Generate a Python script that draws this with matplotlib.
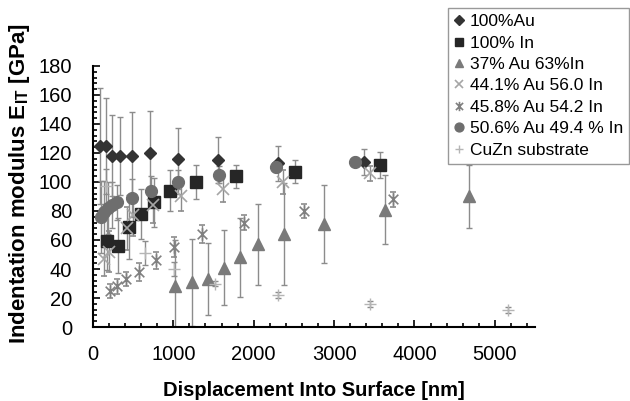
import matplotlib
matplotlib.use("Agg")
import matplotlib.pyplot as plt
from matplotlib.path import Path
from matplotlib.lines import Line2D
from matplotlib.ticker import MultipleLocator

plt.rcParams['font.family'] = ['Liberation Sans', 'DejaVu Sans']
plt.rcParams['mathtext.fontset'] = 'custom'
plt.rcParams['mathtext.bf'] = 'Liberation Sans:bold'
plt.rcParams['mathtext.rm'] = 'Liberation Sans'

# Data (displacement [nm], modulus [GPa], error)
au100_x = [85, 160, 235, 340, 485, 710, 1055, 1560, 2300, 3370]
au100_y = [125, 125, 118, 118, 118, 120, 116, 115, 113, 114]
au100_e = [40, 33, 28, 27, 30, 29, 21, 16, 12, 9]

in100_x = [178, 311, 448, 602, 755, 960, 1280, 1780, 2510, 3570]
in100_y = [59, 56, 69, 78, 86, 94, 100, 104, 107, 112]
in100_e = [20, 19, 22, 17, 17, 14, 12, 8, 8, 9]

au37_x = [1017, 1237, 1432, 1631, 1826, 2054, 2373, 2870, 3630, 4680]
au37_y = [28, 31, 33, 41, 48, 57, 64, 71, 81, 90]
au37_e = [32, 30, 25, 26, 27, 28, 35, 27, 24, 22]

au441_x = [137, 200, 420, 500, 750, 1100, 1620, 2370, 3450]
au441_y = [47, 52, 68, 77, 84, 90, 95, 100, 106]
au441_e = [12, 14, 15, 14, 12, 10, 9, 8, 5]

au458_x = [216, 299, 415, 568, 780, 1008, 1361, 1880, 2630, 3730]
au458_y = [25, 28, 33, 38, 46, 55, 64, 72, 80, 88]
au458_e = [5, 5, 5, 6, 6, 7, 6, 5, 5, 5]

au506_x = [100, 140, 185, 240, 300, 480, 720, 1060, 1570, 2280, 3260]
au506_y = [76, 79, 82, 84, 86, 89, 94, 100, 105, 110, 114]
au506_e = [25, 22, 18, 16, 12, 13, 10, 8, 6, 3, 3]

cuzn_x = [166, 650, 1008, 1515, 2303, 3450, 5170]
cuzn_y = [97, 51, 40, 30, 22, 16, 12]
cuzn_e = [12, 8, 5, 2, 2, 2, 2]

# x with a vertical bar, like the spreadsheet "star" marker
star = Path([(-1, -1), (1, 1), (-1, 1), (1, -1), (0, -1.3), (0, 1.3)],
            [Path.MOVETO, Path.LINETO, Path.MOVETO, Path.LINETO, Path.MOVETO, Path.LINETO])

series = [
    (au100_x, au100_y, au100_e, "100%Au", dict(marker="D", ms=6.5, color="#333333")),
    (in100_x, in100_y, in100_e, "100% In", dict(marker="s", ms=8.5, color="#262626")),
    (au37_x, au37_y, au37_e, "37% Au 63%In", dict(marker="^", ms=8, color="#7a7a7a")),
    (au441_x, au441_y, au441_e, "44.1% Au 56.0 In", dict(marker="x", ms=8, mew=1.2, color="#a6a6a6")),
    (au458_x, au458_y, au458_e, "45.8% Au 54.2 In", dict(marker=star, ms=9, mew=1.2, color="#808080", mfc="none")),
    (au506_x, au506_y, au506_e, "50.6% Au 49.4 % In", dict(marker="o", ms=8.5, color="#6e6e6e")),
    (cuzn_x, cuzn_y, cuzn_e, "CuZn substrate", dict(marker="+", ms=8, mew=1, color="#b5b5b5")),
]

fig = plt.figure(figsize=(6.3, 4.01), dpi=100)
ax = fig.add_axes([0.1476, 0.1845, 0.7016, 0.651])

handles = []
for x, y, e, lab, st in series:
    ax.errorbar(x, y, yerr=e, linestyle="none", ecolor="#8c8c8c", elinewidth=1,
                capsize=2.5, capthick=1, **st)
    handles.append(Line2D([], [], linestyle="none", label=lab, **st))

ax.set_xlim(0, 5500)
ax.set_ylim(0, 180)
ax.xaxis.set_major_locator(MultipleLocator(1000))
ax.xaxis.set_minor_locator(MultipleLocator(200))
ax.yaxis.set_major_locator(MultipleLocator(20))
ax.yaxis.set_minor_locator(MultipleLocator(4))
ax.spines["top"].set_visible(False)
ax.spines["right"].set_visible(False)
ax.spines["left"].set_linewidth(1.5)
ax.spines["bottom"].set_linewidth(1.5)
ax.tick_params(which="both", direction="in", width=1.2, labelsize=14.5)
ax.tick_params(which="major", length=5)
ax.tick_params(which="minor", length=3)
ax.tick_params(axis="x", which="major", pad=13)
ax.tick_params(axis="y", which="major", pad=15)

ax.set_xlabel("Displacement Into Surface [nm]", fontsize=14.5, fontweight="bold", labelpad=12)
ax.set_ylabel(r"Indentation modulus E$_\mathbf{IT}$ [GPa]", fontsize=16, fontweight="bold")
ax.yaxis.set_label_coords(-0.138, 0.55)

leg = ax.legend(handles=handles, loc="upper left", bbox_to_anchor=(448 / 630, 1 - 8 / 401),
                bbox_transform=fig.transFigure, fontsize=12.5, frameon=True,
                fancybox=False, edgecolor="#808080", handlelength=0.6,
                handletextpad=0.3, labelspacing=0.36, borderpad=0.35,
                borderaxespad=0, markerscale=0.75)
leg.get_frame().set_linewidth(1)

fig.savefig("out.png", dpi=100)
